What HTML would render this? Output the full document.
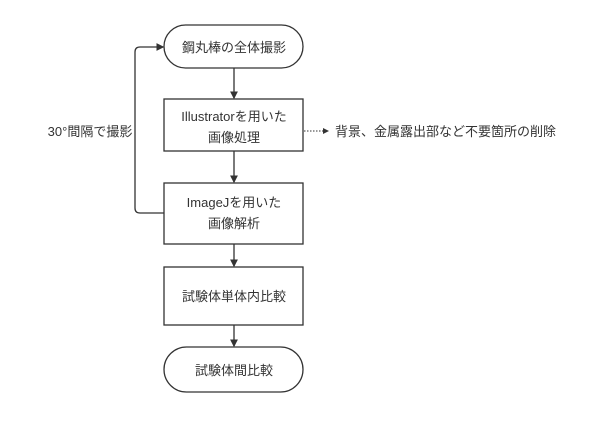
<!DOCTYPE html>
<html><head><meta charset="utf-8"><style>
body{margin:0;background:#fff;}
svg text{font-family:"Liberation Sans","Noto Sans CJK JP",sans-serif;font-size:13px;fill:#333;}
</style></head><body>
<svg width="614" height="417" viewBox="0 0 614 417" xmlns="http://www.w3.org/2000/svg">
<defs><marker id="a" markerWidth="6" markerHeight="6" refX="5" refY="3" orient="auto"><path d="M0,0 L6,3 L0,6 z" fill="#333"/></marker></defs>
<g stroke="#333" stroke-width="1.3" fill="#fff">
<rect x="164" y="25" width="139" height="43" rx="21.5"/>
<rect x="164" y="99" width="139" height="52"/>
<rect x="164" y="183" width="139" height="61"/>
<rect x="164" y="267" width="139" height="58"/>
<rect x="164" y="347" width="139" height="45" rx="22.5"/>
</g>
<g stroke="#333" stroke-width="1.3" fill="none">
<line x1="234" y1="68" x2="234" y2="98" marker-end="url(#a)"/>
<line x1="234" y1="151" x2="234" y2="182" marker-end="url(#a)"/>
<line x1="234" y1="244" x2="234" y2="266" marker-end="url(#a)"/>
<line x1="234" y1="325" x2="234" y2="346" marker-end="url(#a)"/>
<path d="M164,213 H140 Q135,213 135,208 V52 Q135,47 140,47 H163" marker-end="url(#a)"/>
<line x1="304" y1="131" x2="328" y2="131" stroke-dasharray="1.5,1.5" stroke-width="1" marker-end="url(#a)"/>
</g>
<g text-anchor="middle">
<text x="234" y="52">鋼丸棒の全体撮影</text>
<text x="234" y="121">Illustratorを用いた</text>
<text x="234" y="142">画像処理</text>
<text x="234" y="207">ImageJを用いた</text>
<text x="234" y="228">画像解析</text>
<text x="234" y="301">試験体単体内比較</text>
<text x="234" y="375">試験体間比較</text>
<text x="90" y="136">30°間隔で撮影</text>
</g>
<text x="335" y="136">背景、金属露出部など不要箇所の削除</text>
</svg>
</body></html>
